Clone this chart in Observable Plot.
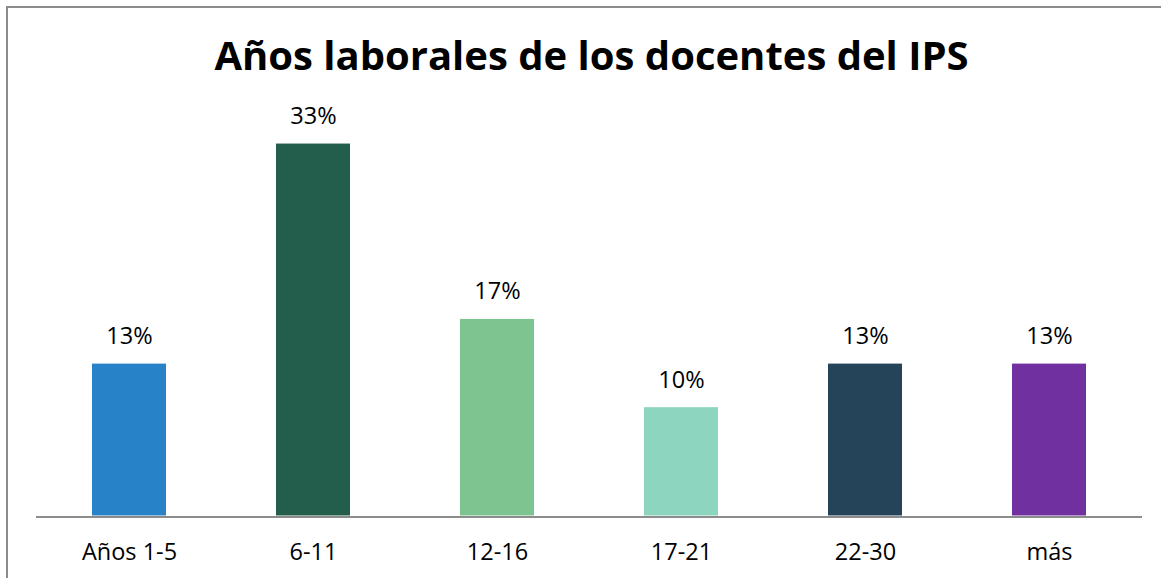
<!DOCTYPE html>
<html>
<head>
<meta charset="utf-8">
<script src="https://cdn.jsdelivr.net/npm/d3@7"></script>
<script src="https://cdn.jsdelivr.net/npm/@observablehq/plot@0.6"></script>
<style>
  html, body { margin: 0; padding: 0; background: #fff; }
  #wrap { position: relative; width: 1161px; height: 578px; overflow: hidden; background: #fff; }
  #frame { position: absolute; left: 6px; top: 6px; width: 1300px; height: 700px;
           border-left: 2px solid #8c8c8c; border-top: 2px solid #8c8c8c; box-sizing: border-box; }
  #chart { position: absolute; left: 0; top: 0; }
  #chart svg { display: block; }
</style>
</head>
<body>
<div id="wrap"><div id="frame"></div><div id="chart"></div></div>
<script>
const title = "Años laborales de los docentes del IPS";
const categories = ["Años 1-5", "6-11", "12-16", "17-21", "22-30", "más"];
const values = [13.6, 33.3, 17.6, 9.7, 13.6, 13.6];
const labels = ["13%", "33%", "17%", "10%", "13%", "13%"];
const colors = ["#2882C8", "#225E4B", "#7EC491", "#8ED5C0", "#264459", "#7030A0"];

const data = categories.map((c, i) => ({category: c, value: values[i], label: labels[i]}));
const font = "'Open Sans', Lato, sans-serif";

const chart = Plot.plot({
  width: 1161,
  height: 578,
  marginLeft: 36,
  marginRight: 19,
  marginTop: 100,
  marginBottom: 62.5,
  style: {fontFamily: font, background: "transparent", color: "#000"},
  x: {domain: categories, paddingInner: 0.6, paddingOuter: 0.3, axis: null},
  y: {domain: [0, 37.2], axis: null},
  color: {domain: categories, range: colors},
  marks: [
    Plot.barY(data, {x: "category", y: "value", fill: "category"}),
    Plot.ruleY([0], {stroke: "#8c8c8c", strokeWidth: 2, dy: 1}),
    Plot.text(data, {x: "category", y: "value", text: "label", lineAnchor: "bottom", dy: -20,
      fontSize: 23.5, fill: "#000"}),
    Plot.text(data, {x: "category", frameAnchor: "bottom", text: "category", lineAnchor: "bottom", dy: 44,
      fontSize: 23.5, fill: "#000"}),
    Plot.text([title], {frameAnchor: "top", text: d => d, lineAnchor: "bottom", dy: -31, dx: 2,
      fontSize: 40, fontWeight: "bold", fill: "#000"})
  ]
});
document.getElementById("chart").appendChild(chart);
</script>
</body>
</html>
